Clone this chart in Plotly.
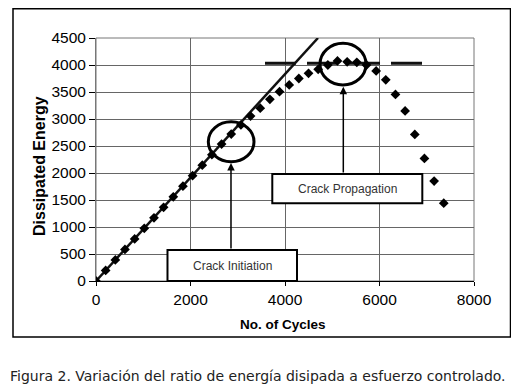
import plotly.graph_objects as go

# ---- data ----
cycles = [0, 204, 409, 613, 818, 1022, 1227, 1431, 1636, 1840, 2044, 2249, 2453,
          2658, 2862, 3067, 3271, 3476, 3680, 3884, 4089, 4293, 4498, 4702, 4907,
          5111, 5316, 5520, 5724, 5929, 6133, 6338, 6542, 6747, 6951, 7156, 7360]
energy = [0, 195, 390, 585, 780, 975, 1170, 1365, 1560, 1755, 1950, 2145, 2340,
          2535, 2720, 2890, 3055, 3200, 3365, 3505, 3630, 3750, 3845, 3920, 4000,
          4075, 4060, 4050, 4000, 3890, 3725, 3455, 3150, 2715, 2270, 1850, 1440]
trend_x = [0, 4698]
trend_y = [0, 4500]
plateau_x = [3577, 6927]
plateau_y = [4031, 4031]
x_ticks = [0, 2000, 4000, 6000, 8000]
y_ticks = [0, 500, 1000, 1500, 2000, 2500, 3000, 3500, 4000, 4500]

x_title = "No. of Cycles"
y_title = "Dissipated Energy"
label_init = "Crack Initiation"
label_prop = "Crack Propagation"
caption = "Figura 2. Variación del ratio de energía disipada a esfuerzo controlado."

# page has an 8px body margin; figure sized so no scrollbars appear
OFF = 8
W, H = 519 - 2 * OFF, 392 - 2 * OFF
PL, PR, PT, PB = 96, 474, 38, 281   # plot area in window pixels
L, T = PL - OFF, PT - OFF
pw, ph = PR - PL, PB - PT
R, B = W - L - pw, H - T - ph


def px_x(p):
    return (p - PL) / pw


def px_y(p):
    return (PB - p) / ph


fig = go.Figure()
fig.add_trace(go.Scatter(x=trend_x, y=trend_y, mode="lines",
                         line=dict(color="#111", width=2.5), showlegend=False))
fig.add_trace(go.Scatter(x=plateau_x, y=plateau_y, mode="lines",
                         line=dict(color="#111", width=3, dash="31px,11px"),
                         showlegend=False))
fig.add_trace(go.Scatter(x=cycles, y=energy, mode="markers",
                         marker=dict(symbol="diamond", size=7.5, color="#000"),
                         showlegend=False))

# circles
fig.add_shape(type="circle", xref="x", yref="y", x0=2377, x1=3344, y0=2209, y1=2950,
              line=dict(color="#000", width=3))
fig.add_shape(type="circle", xref="x", yref="y", x0=4741, x1=5714, y0=3630, y1=4402,
              line=dict(color="#000", width=3))
# label boxes
fig.add_shape(type="rect", xref="x", yref="y", x0=1513, x1=4254, y0=0, y1=574,
              line=dict(color="#000", width=2), fillcolor="white")
fig.add_shape(type="rect", xref="x", yref="y", x0=3731, x1=6906, y0=1439, y1=1981,
              line=dict(color="#000", width=2), fillcolor="white")
# outer frame
fig.add_shape(type="rect", xref="paper", yref="paper",
              x0=px_x(13), x1=px_x(510.5), y0=px_y(337), y1=px_y(8.8),
              line=dict(color="#000", width=1.5))

# arrows
fig.add_annotation(x=2857, y=2185, ax=2857, ay=574, xref="x", yref="y",
                   axref="x", ayref="y", showarrow=True, arrowhead=2,
                   arrowsize=1, arrowwidth=1.5, arrowcolor="#000", text="")
fig.add_annotation(x=5234, y=3598, ax=5234, ay=1981, xref="x", yref="y",
                   axref="x", ayref="y", showarrow=True, arrowhead=2,
                   arrowsize=1, arrowwidth=1.5, arrowcolor="#000", text="")

# box labels
fig.add_annotation(x=(1513 + 4254) / 2, y=287, xref="x", yref="y", text=label_init,
                   showarrow=False, font=dict(family="Liberation Sans", size=12, color="#333"))
fig.add_annotation(x=(3731 + 6906) / 2, y=1710, xref="x", yref="y", text=label_prop,
                   showarrow=False, font=dict(family="Liberation Sans", size=12, color="#333"))

# axis titles
fig.add_annotation(x=px_x(39), y=px_y(166), xref="paper", yref="paper", text="<b>" + y_title + "</b>",
                   textangle=-90, showarrow=False, xanchor="center", yanchor="middle",
                   font=dict(family="Liberation Sans", size=16, color="#000"))
fig.add_annotation(x=px_x(283), y=px_y(324), xref="paper", yref="paper", text="<b>" + x_title + "</b>",
                   showarrow=False, xanchor="center", yanchor="middle",
                   font=dict(family="Liberation Sans", size=13.5, color="#000"))
# caption
fig.add_annotation(x=px_x(8), y=px_y(376), xref="paper", yref="paper", text=caption,
                   showarrow=False, xanchor="left", yanchor="middle",
                   font=dict(family="DejaVu Sans", size=14, color="#222"))

fig.update_xaxes(range=[0, 8000], tickvals=x_ticks, ticktext=[str(v) for v in x_ticks],
                 showgrid=True, gridcolor="#666", gridwidth=1,
                 showline=True, linecolor="#000", linewidth=1, mirror=False,
                 ticks="outside", ticklen=4, tickcolor="#000",
                 tickfont=dict(family="Liberation Sans", size=15.5, color="#000"),
                 zeroline=False)
fig.update_yaxes(range=[0, 4500], tickvals=y_ticks, ticktext=[str(v) for v in y_ticks],
                 showgrid=True, gridcolor="#666", gridwidth=1,
                 showline=True, linecolor="#777", linewidth=1,
                 ticks="outside", ticklen=6, tickcolor="#000",
                 tickfont=dict(family="Liberation Sans", size=15.5, color="#000"),
                 zeroline=False)
# top and right plot borders
fig.add_shape(type="rect", xref="paper", yref="paper", x0=0, x1=1, y0=0, y1=1,
              line=dict(color="#777", width=1), layer="below")

fig.update_layout(width=W, height=H, margin=dict(l=L, r=R, t=T, b=B),
                  paper_bgcolor="white", plot_bgcolor="white", showlegend=False)
fig.write_html("out.html")
